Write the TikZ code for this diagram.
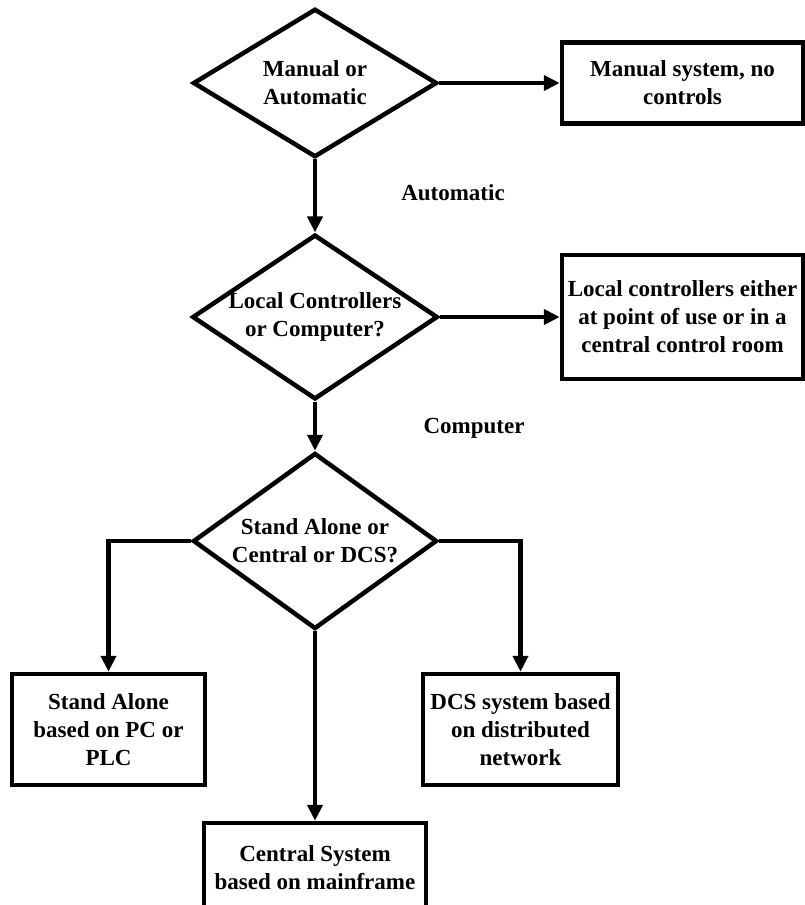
\documentclass[tikz,border=0pt]{standalone}
\usepackage{fontspec}
\setmainfont{Liberation Serif}
\usetikzlibrary{shapes.geometric,arrows.meta}

\begin{document}
\begin{tikzpicture}[x=1pt,y=-1pt,-{Triangle[length=16pt,width=15pt]},line width=4.5pt,
    font=\fontsize{23}{28}\selectfont\bfseries]
  \tikzstyle{decision}=[diamond,draw,align=center,inner sep=0pt]
  \tikzstyle{block}=[rectangle,draw,align=center,inner sep=0pt]
  \useasboundingbox (0,0) rectangle (805,905);
  \node[decision,minimum width=244pt,minimum height=138pt] (manauto) at (315,83) {Manual or\\Automatic};
  \node[decision,minimum width=244pt,minimum height=164pt,aspect=1.49] (localcomp) at (315,317) {Local Controllers\\or Computer?};
  \node[decision,minimum width=244pt,minimum height=176pt,aspect=1.39] (standcent) at (315,541) {Stand Alone or\\Central or DCS?};
  \node[block,minimum width=241pt,minimum height=81pt] (manual) at (682.5,83) {Manual system, no\\controls};
  \node[block,minimum width=241pt,minimum height=124pt] (local) at (682.5,317) {Local controllers either\\at point of use or in a\\central control room};
  \node[block,minimum width=193pt,minimum height=111pt] (alone) at (108.5,729.5) {Stand Alone\\based on PC or\\PLC};
  \node[block,minimum width=195pt,minimum height=111pt] (dcs) at (520.5,729.5) {DCS system based\\on distributed\\network};
  \node[block,minimum width=222pt,minimum height=90pt] (central) at (315,868) {Central System\\based on mainframe};
  \draw (manauto.east) -- (manual.west);
  \draw (manauto.south) -- (localcomp.north);
  \draw (localcomp.east) -- (local.west);
  \draw (localcomp.south) -- (standcent.north);
  \draw (standcent.west) -| (alone.north);
  \draw (standcent.east) -| (dcs.north);
  \draw (standcent.south) -- (central.north);
  \node (auto) at (453,193) {Automatic};
  \node (comp) at (474,428) {Computer};
\end{tikzpicture}
\end{document}
